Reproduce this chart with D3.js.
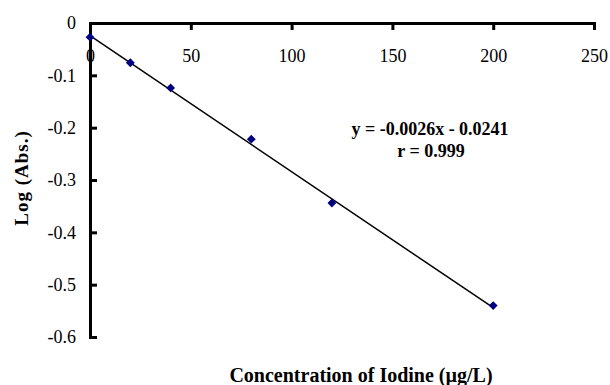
<!DOCTYPE html>
<html>
<head>
<meta charset="utf-8">
<script src="https://cdn.jsdelivr.net/npm/d3@7"></script>
<style>
  body { margin: 0; background: #fff; }
  svg { display: block; font-family: "Liberation Serif", "Times New Roman", serif; }
</style>
</head>
<body>
<svg id="chart" width="610" height="385"></svg>
<script>
// data
var concentration = [0, 20, 40, 80, 120, 200];
var logAbs = [-0.027, -0.076, -0.124, -0.222, -0.344, -0.540];
var xTicks = [0, 50, 100, 150, 200, 250];
var yTicks = [0, -0.1, -0.2, -0.3, -0.4, -0.5, -0.6];
var slope = -0.0026, intercept = -0.0241;
var fitRange = [0, 200];

var serif = "'Liberation Serif', 'Times New Roman', serif";
var svg = d3.select("#chart");

var xScale = d3.scaleLinear().domain([0, 250]).range([90, 594]);
var yScale = d3.scaleLinear().domain([0, -0.6]).range([23, 337]);

function styleAxis(g) {
  g.attr("font-family", serif).attr("font-size", 18);
  g.select(".domain").attr("stroke", "#000").attr("stroke-width", 3);
  g.selectAll(".tick line").attr("stroke", "#000").attr("stroke-width", 3);
  g.selectAll(".tick text").style("font-family", serif).style("font-size", "18px").attr("fill", "#000");
}

// x axis sits at y = 0 (top), ticks point down into the plot
var xAxis = svg.append("g")
  .attr("transform", "translate(0," + yScale(0) + ")")
  .call(d3.axisBottom(xScale).tickValues(xTicks).tickSize(7).tickPadding(19).tickFormat(d3.format("d")));
styleAxis(xAxis);

// y axis, ticks pointing right into the plot; plain hyphen for minus
var yAxis = svg.append("g")
  .attr("transform", "translate(" + xScale(0) + ",0)")
  .call(d3.axisRight(yScale).tickValues(yTicks).tickSize(7)
    .tickFormat(function (d) { return d === 0 ? "0" : d.toFixed(1); }));
styleAxis(yAxis);
yAxis.selectAll(".tick text").attr("x", -14).attr("text-anchor", "end");

// fitted line
svg.append("line")
  .attr("x1", xScale(fitRange[0])).attr("y1", yScale(slope * fitRange[0] + intercept))
  .attr("x2", xScale(fitRange[1])).attr("y2", yScale(slope * fitRange[1] + intercept))
  .attr("stroke", "#000").attr("stroke-width", 1.5);

// points
svg.selectAll(".dot")
  .data(concentration)
  .enter().append("path")
  .attr("class", "dot")
  .attr("transform", function (d, i) { return "translate(" + xScale(d) + "," + yScale(logAbs[i]) + ")"; })
  .attr("d", d3.symbol().type(d3.symbolDiamond2).size(50))
  .attr("fill", "#000080");

// equation
svg.append("text")
  .attr("x", 430).attr("y", 135)
  .attr("text-anchor", "middle").attr("font-weight", "bold").attr("font-size", 18)
  .text("y = -0.0026x - 0.0241");
svg.append("text")
  .attr("x", 431).attr("y", 157)
  .attr("text-anchor", "middle").attr("font-weight", "bold").attr("font-size", 18)
  .text("r = 0.999");

// axis titles
svg.append("text")
  .attr("transform", "translate(28,178) rotate(-90)")
  .attr("text-anchor", "middle").attr("font-weight", "bold").attr("font-size", 19)
  .attr("letter-spacing", 1)
  .text("Log (Abs.)");
svg.append("text")
  .attr("x", 361).attr("y", 382)
  .attr("text-anchor", "middle").attr("font-weight", "bold").attr("font-size", 20)
  .text("Concentration of Iodine (\u00b5g/L)");
</script>
</body>
</html>
